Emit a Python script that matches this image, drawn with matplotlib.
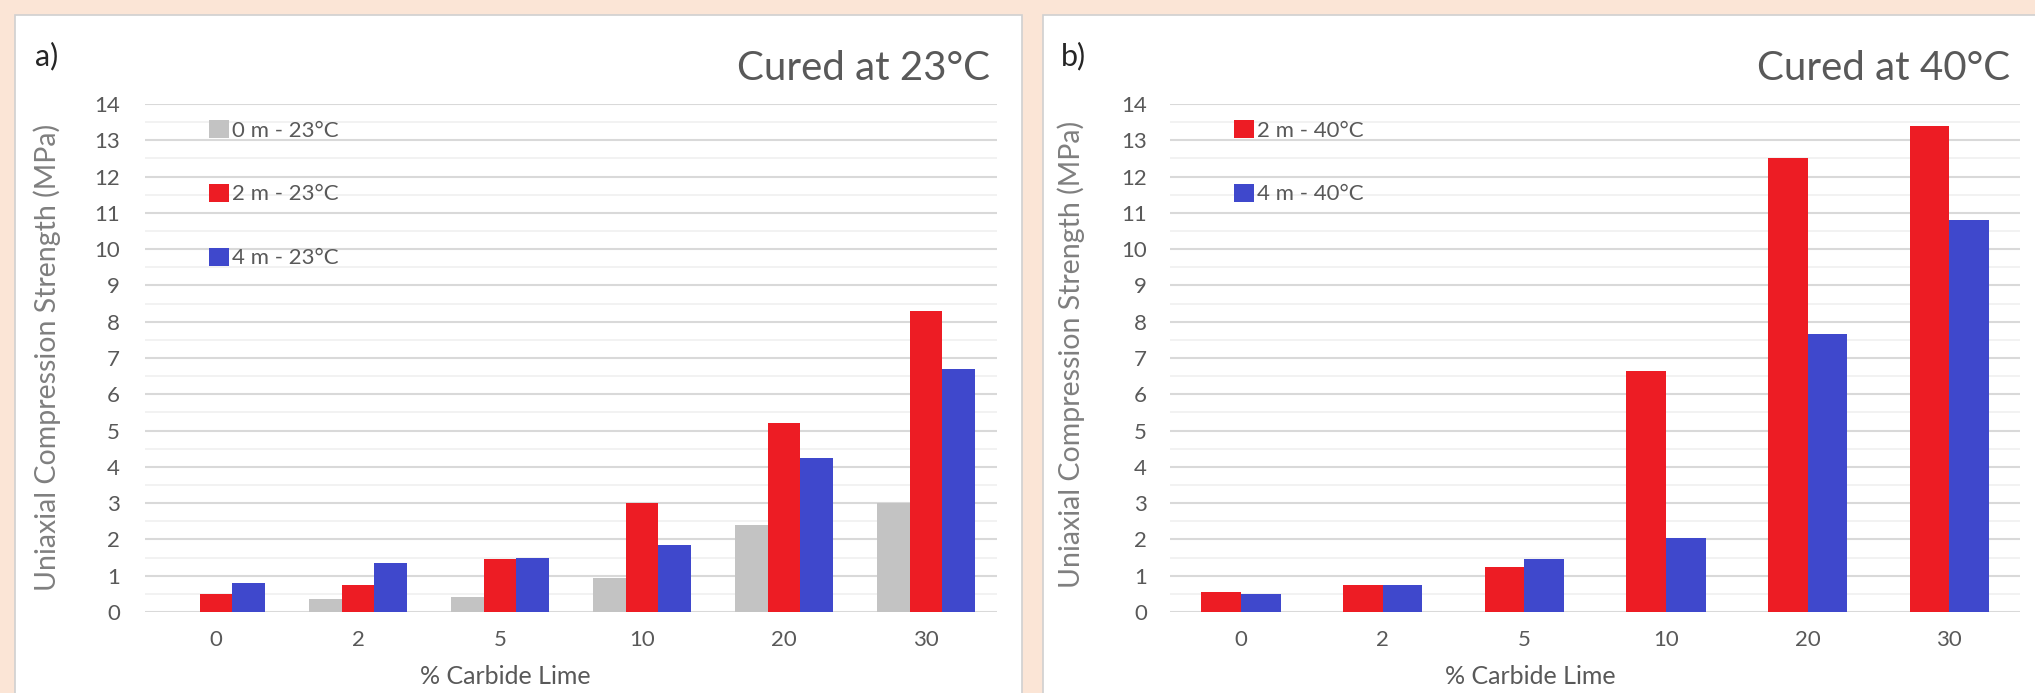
import numpy as np
import matplotlib
matplotlib.use('Agg')
import matplotlib.pyplot as plt
from matplotlib.patches import Rectangle

plt.rcParams['font.family'] = ['Lato', 'DejaVu Sans']

categories = ['0', '2', '5', '10', '20', '30']

# cured at 23 C
m0_23 = [0.0, 0.35, 0.40, 0.95, 2.40, 3.00]
m2_23 = [0.50, 0.75, 1.45, 3.00, 5.20, 8.30]
m4_23 = [0.80, 1.35, 1.50, 1.85, 4.25, 6.70]

# cured at 40 C
m2_40 = [0.55, 0.75, 1.25, 6.65, 12.50, 13.40]
m4_40 = [0.50, 0.75, 1.45, 2.05, 7.65, 10.80]

GRAY = '#c3c3c3'
RED = '#ed1c24'
BLUE = '#3f48cc'
TXT = '#595959'

W, H = 2035, 693
fig = plt.figure(figsize=(W / 100, H / 100), dpi=100)
fig.patch.set_facecolor('#fbe5d6')

# white chart panels
for x0, x1 in [(15, 1022), (1043, 2040)]:
    fig.patches.append(Rectangle((x0 / W, -0.01), (x1 - x0) / W, (H - 15) / H + 0.01,
                                 transform=fig.transFigure, facecolor='white',
                                 edgecolor='#d0d0d0', lw=1.2, zorder=-1))

ax1 = fig.add_axes([145 / W, 1 - 612 / H, 852 / W, 508 / H])
ax2 = fig.add_axes([1170 / W, 1 - 612 / H, 850 / W, 508 / H])

x = np.arange(len(categories))

w1 = 0.23
ax1.bar(x - w1, m0_23, w1, color=GRAY, label='0 m - 23°C', zorder=3)
ax1.bar(x, m2_23, w1, color=RED, label='2 m - 23°C', zorder=3)
ax1.bar(x + w1, m4_23, w1, color=BLUE, label='4 m - 23°C', zorder=3)

w2 = 0.28
ax2.bar(x - w2 / 2, m2_40, w2, color=RED, label='2 m - 40°C', zorder=3)
ax2.bar(x + w2 / 2, m4_40, w2, color=BLUE, label='4 m - 40°C', zorder=3)

for ax, ypad in [(ax1, 18), (ax2, 16.5)]:
    ax.set_facecolor('none')
    ax.set_xlim(-0.5, len(categories) - 0.5)
    ax.set_ylim(0, 14)
    ax.set_yticks(np.arange(0, 15, 1))
    ax.set_yticks(np.arange(0.5, 14, 1), minor=True)
    ax.set_xticks(x)
    ax.set_xticklabels(categories)
    for s in ax.spines.values():
        s.set_visible(False)
    ax.grid(True, axis='y', which='major', color='#d9d9d9', lw=1.5, zorder=0)
    ax.grid(True, axis='y', which='minor', color='#f0f0f0', lw=1.2, zorder=0)
    ax.tick_params(axis='y', which='both', length=0, pad=ypad, labelsize=16, labelcolor=TXT)
    ax.tick_params(axis='x', length=0, pad=13, labelsize=16, labelcolor=TXT)

leg_kw = dict(loc='upper left', frameon=False, fontsize=16, labelspacing=1.95,
              handlelength=0.9, handleheight=0.85, handletextpad=0.15,
              borderpad=0, borderaxespad=0, bbox_transform=fig.transFigure)
l1 = ax1.legend(bbox_to_anchor=(209 / W, 1 - 120 / H), **leg_kw)
l2 = ax2.legend(bbox_to_anchor=(1234 / W, 1 - 120 / H), **leg_kw)
for leg in (l1, l2):
    for t in leg.get_texts():
        t.set_color(TXT)

# panel letters and titles
fig.text(35 / W, 1 - 56 / H, 'a)', fontsize=22, color='#262626', va='center', ha='left')
fig.text(1061 / W, 1 - 56 / H, 'b)', fontsize=22, color='#262626', va='center', ha='left')
fig.text(990 / W, 1 - 68 / H, 'Cured at 23°C', fontsize=29, color=TXT, va='center', ha='right')
fig.text(2010 / W, 1 - 68 / H, 'Cured at 40°C', fontsize=29, color=TXT, va='center', ha='right')

ylab = 'Uniaxial Compression Strength (MPa)'
fig.text(47 / W, 1 - 357 / H, ylab, rotation=90, fontsize=20.5, color='#7f7f7f',
         va='center', ha='center')
fig.text(1071 / W, 1 - 354 / H, ylab, rotation=90, fontsize=20.5, color='#7f7f7f',
         va='center', ha='center')

fig.text(505 / W, 1 - 676 / H, '% Carbide Lime', fontsize=18, color=TXT, va='center', ha='center')
fig.text(1530 / W, 1 - 676 / H, '% Carbide Lime', fontsize=18, color=TXT, va='center', ha='center')

fig.savefig('out.png', dpi=100, facecolor=fig.get_facecolor())
